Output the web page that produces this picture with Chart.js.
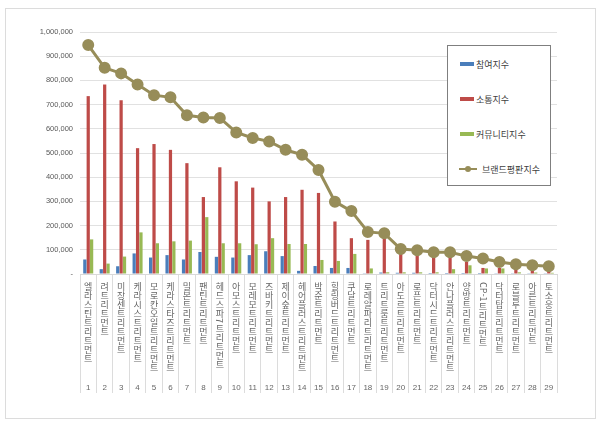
<!DOCTYPE html>
<html lang="ko">
<head>
<meta charset="utf-8">
<title>트리트먼트 브랜드평판</title>
<script src="https://cdn.jsdelivr.net/npm/chart.js@4.4.1/dist/chart.umd.min.js"></script>
<style>
    body { margin: 0; background: #fff; }
    #wrap { position: relative; width: 600px; height: 425px; }
    #frame { position: absolute; left: 5px; top: 8px; width: 589px; height: 409px; border: 1px solid #dcdcdc; pointer-events: none; }
</style>
</head>
<body>
<div id="wrap">
    <canvas id="brand-chart" width="600" height="425"></canvas>
    <div id="frame"></div>
    <div id="brand-legend"></div>
</div>
<script>
// Brand names (category axis) and rank numbers shown under them
const brands = [
    '엘라스틴트리트먼트', '려트리트먼트', '미장센트리트먼트', '케라시스트리트먼트', '모로칸오일트리트먼트',
    '케라스타즈트리트먼트', '밀본트리트먼트', '팬틴트리트먼트', '헤드스파7트리트먼트', '아모스트리트먼트',
    '모레모트리트먼트', '즈바키트리트먼트', '제이숲트리트먼트', '헤어플러스트리트먼트', '박준트리트먼트',
    '힐링버드트리트먼트', '쿠달트리트먼트', '로레알파리트리트먼트', '트리트룸트리트먼트', '아도르트리트먼트',
    '로픈트리트먼트', '닥터시드트리트먼트', '안나플러스트리트먼트', '양방트리트먼트', 'CP-1트리트먼트',
    '닥터탑트리트먼트', '로블루트리트먼트', '아른트리트먼트', '토소웅트리트먼트'
];
const ranks = ['1', '2', '3', '4', '5', '6', '7', '8', '9', '10', '11', '12', '13', '14', '15',
    '16', '17', '18', '19', '20', '21', '22', '23', '24', '25', '26', '27', '28', '29'];

// Series values
const participation = [60000, 20000, 32000, 85000, 68000, 78000, 60000, 91000, 71000, 68000,
    78000, 94000, 74000, 13000, 33000, 25000, 25000, 3000, 6000, 5000,
    5000, 4000, 4000, 4000, 4000, 3000, 3000, 3000, 3000];
const communication = [735000, 783000, 718000, 520000, 537000, 513000, 458000, 318000, 441000, 383000,
    357000, 300000, 318000, 348000, 335000, 217000, 148000, 141000, 155000, 92000,
    88000, 76000, 72000, 51000, 25000, 25000, 28000, 20000, 20000];
const community = [143000, 43000, 72000, 172000, 127000, 135000, 138000, 235000, 127000, 127000,
    123000, 148000, 124000, 124000, 58000, 54000, 83000, 23000, 7000, 7000,
    7000, 7000, 20000, 36000, 23000, 23000, 7000, 6000, 5000];
const reputation = [946000, 852000, 829000, 783000, 739000, 730000, 656000, 647000, 645000, 585000,
    562000, 548000, 513000, 493000, 430000, 299000, 260000, 174000, 168000, 103000,
    98000, 90000, 90000, 74000, 64000, 50000, 40000, 36000, 32000];

const seriesLabels = ['참여지수', '소통지수', '커뮤니티지수', '브랜드평판지수'];
const seriesColors = ['#4a7ebb', '#be4b48', '#98b954', '#978d59'];

const fontKo = '"Noto Sans CJK KR", "Noto Sans", sans-serif';

// Vertical brand names + rank numbers under the axis
const verticalLabels = {
    id: 'verticalLabels',
    afterDraw(chart) {
        const ctx = chart.ctx;
        const xScale = chart.scales.x;
        const top = chart.chartArea.bottom + 8;
        ctx.save();
        ctx.fillStyle = '#666666';
        brands.forEach((name, i) => {
            const x = xScale.getPixelForValue(i);
            ctx.font = '9px ' + fontKo;
            let y = top;
            // ascii runs are turned sideways, hangul stays upright
            const parts = name.match(/[\x20-\x7e]+|[^\x20-\x7e]/g);
            parts.forEach(part => {
                if (/^[\x20-\x7e]+$/.test(part)) {
                    const w = ctx.measureText(part).width;
                    ctx.save();
                    ctx.translate(x, y);
                    ctx.rotate(Math.PI / 2);
                    ctx.textAlign = 'left';
                    ctx.textBaseline = 'middle';
                    ctx.fillText(part, 0, 0);
                    ctx.restore();
                    y += w + 1;
                } else {
                    ctx.textAlign = 'center';
                    ctx.textBaseline = 'top';
                    ctx.fillText(part, x, y);
                    y += 9;
                }
            });
            ctx.font = '8px "Liberation Sans", sans-serif';
            ctx.textAlign = 'center';
            ctx.textBaseline = 'middle';
            ctx.fillText(ranks[i], x, 388);
        });
        ctx.restore();
    }
};

function generarGrafico() {
    const ctx = document.getElementById('brand-chart');

    const data = {
        labels: brands,
        datasets: [
            {
                type: 'line',
                label: seriesLabels[3],
                data: reputation,
                borderColor: seriesColors[3],
                backgroundColor: seriesColors[3],
                pointBackgroundColor: seriesColors[3],
                pointBorderColor: seriesColors[3],
                borderWidth: 3,
                pointRadius: 4.5,
                tension: 0,
                order: 0
            },
            { label: seriesLabels[0], data: participation, backgroundColor: seriesColors[0], order: 1 },
            { label: seriesLabels[1], data: communication, backgroundColor: seriesColors[1], order: 1 },
            { label: seriesLabels[2], data: community, backgroundColor: seriesColors[2], order: 1 }
        ]
    };

    window.brandChart = new Chart(ctx, {
        type: 'bar',
        data: data,
        options: {
            responsive: false,
            animation: false,
            layout: { padding: { top: 32, right: 43, left: 0, bottom: 0 } },
            datasets: {
                bar: { categoryPercentage: 0.62, barPercentage: 0.95 }
            },
            plugins: {
                legend: { display: false },
                tooltip: { enabled: false }
            },
            scales: {
                x: {
                    ticks: { display: false },
                    grid: {
                        offset: true,
                        drawOnChartArea: false,
                        drawTicks: true,
                        tickLength: 119,
                        color: '#dcdcdc'
                    },
                    border: { color: '#d9d9d9' },
                    afterFit(scale) { scale.height = 151; }
                },
                y: {
                    min: 0,
                    max: 1000000,
                    ticks: {
                        stepSize: 100000,
                        padding: 7,
                        color: '#595959',
                        font: { size: 7.5, family: '"Liberation Sans", sans-serif' },
                        callback: v => v === 0 ? '-' : v.toLocaleString('en-US')
                    },
                    grid: { color: '#e1e1e1', drawTicks: false },
                    border: { display: false },
                    afterFit(scale) { scale.width = 80; }
                }
            }
        },
        plugins: [verticalLabels]
    });
}

function generarLeyenda() {
    const legend = document.getElementById('brand-legend');
    legend.style.position = 'absolute';
    legend.style.left = '447px';
    legend.style.top = '45px';
    legend.style.width = '102px';
    legend.style.height = '139px';
    legend.style.border = '1px solid #7f7f7f';
    legend.style.background = '#fff';

    const rows = [63, 98, 133, 168];
    seriesLabels.forEach((label, i) => {
        const row = document.createElement('div');
        row.style.position = 'absolute';
        row.style.left = '11px';
        row.style.top = (rows[i] - 45 - 8) + 'px';
        row.style.height = '16px';
        row.style.display = 'flex';
        row.style.alignItems = 'center';

        const mark = document.createElement('div');
        mark.style.position = 'relative';
        if (i < 3) {
            mark.style.width = '14px';
            mark.style.height = '4px';
            mark.style.marginLeft = '1px';
            mark.style.marginRight = '2px';
            mark.style.background = seriesColors[i];
        } else {
            mark.style.width = '18px';
            mark.style.height = '2px';
            mark.style.marginRight = '5px';
            mark.style.background = seriesColors[i];
            const dot = document.createElement('div');
            dot.style.position = 'absolute';
            dot.style.left = '6px';
            dot.style.top = '-2px';
            dot.style.width = '6px';
            dot.style.height = '6px';
            dot.style.borderRadius = '50%';
            dot.style.background = seriesColors[i];
            mark.appendChild(dot);
        }

        const text = document.createElement('span');
        text.textContent = label;
        text.style.font = '9px ' + fontKo;
        text.style.color = '#404040';

        row.appendChild(mark);
        row.appendChild(text);
        legend.appendChild(row);
    });
}

generarGrafico();
generarLeyenda();
</script>
</body>
</html>
